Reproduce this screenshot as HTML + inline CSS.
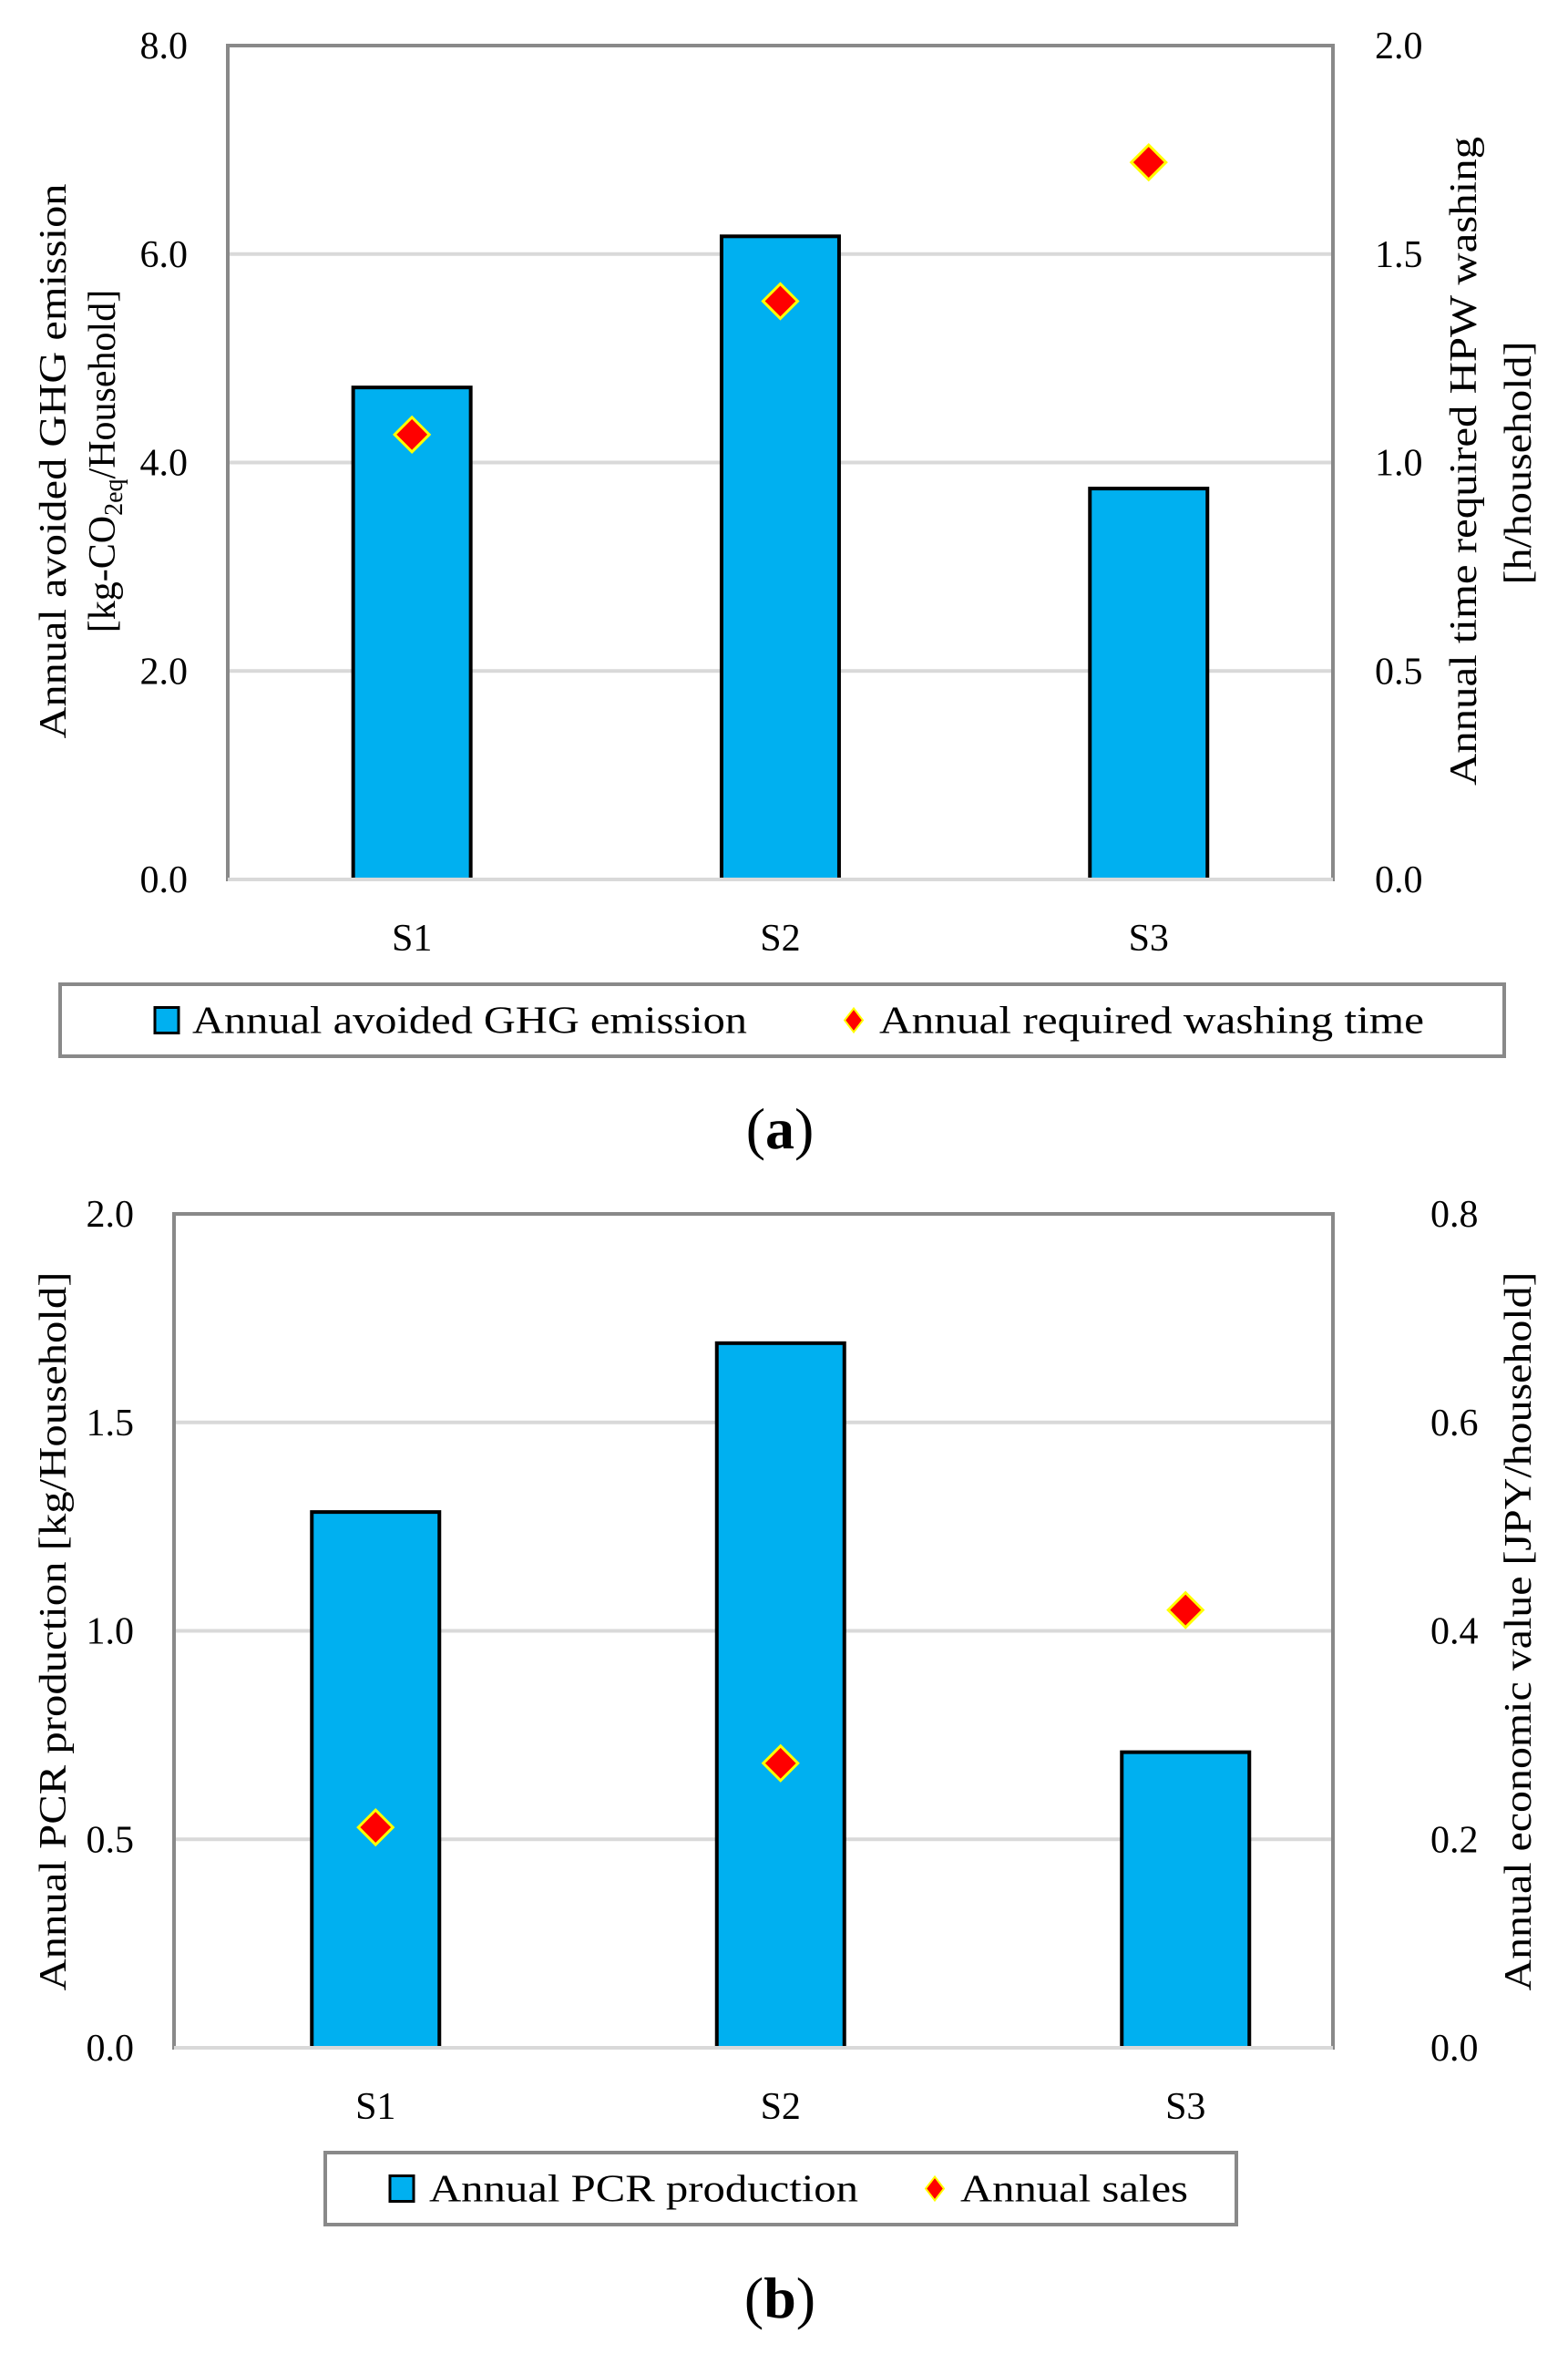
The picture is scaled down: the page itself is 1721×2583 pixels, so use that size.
<!DOCTYPE html>
<html><head><meta charset="utf-8"><style>
html,body{margin:0;padding:0;background:#fff;}
svg{display:block;font-family:"Liberation Serif",serif;}
</style></head><body>
<svg id="fig" width="1721" height="2583" viewBox="0 0 1721 2583" xmlns="http://www.w3.org/2000/svg"></svg>
<script>
const categories = ["S1","S2","S3"];
// chart (a)
const ghgValues = [4.72, 6.17, 3.75];
const washValues = [1.067, 1.387, 1.72];
const aLeftTicks = ["0.0","2.0","4.0","6.0","8.0"];
const aRightTicks = ["0.0","0.5","1.0","1.5","2.0"];
// chart (b)
const pcrValues = [1.285, 1.69, 0.709];
const salesValues = [0.2115, 0.273, 0.42];
const bLeftTicks = ["0.0","0.5","1.0","1.5","2.0"];
const bRightTicks = ["0.0","0.2","0.4","0.6","0.8"];

const NS="http://www.w3.org/2000/svg";
const svg=document.getElementById('fig');
function mk(tag,attrs,parent){const e=document.createElementNS(NS,tag);for(const k in attrs)e.setAttribute(k,attrs[k]);(parent||svg).appendChild(e);return e;}
function txt(s,attrs,parent){const e=mk('text',attrs,parent);e.textContent=s;return e;}

function chart(cfg){
  const g=mk('g',{});
  
  
  const {x0,x1,y0,y1}=cfg;
  const yL=v=>y1-(v/cfg.lMax)*(y1-y0);
  const yR=v=>y1-(v/cfg.rMax)*(y1-y0);
  const cw=cfg.step;
  const xc=i=>cfg.bandStart+cw*(i+0.5);
  cfg.lTicks.forEach((t,i)=>{
    const v=cfg.lMax*i/(cfg.lTicks.length-1);
    const l=mk('line',{x1:x0,x2:x1,y1:yL(v),y2:yL(v),stroke:'#d9d9d9','stroke-width':4},g);
    
    
    const tl=txt(t,{x:cfg.lTickX,y:yL(v)+14,'text-anchor':'end','font-size':42},g);
    
    
  });
  cfg.rTicks.forEach((t,i)=>{
    const v=cfg.rMax*i/(cfg.rTicks.length-1);
    const tl=txt(t,{x:cfg.rTickX,y:yR(v)+14,'text-anchor':'start','font-size':42},g);
    
    
  });
  cfg.bars.forEach((v,i)=>{
    const bw=cfg.bw;
    const r=mk('rect',{x:xc(i)-bw/2,y:yL(v),width:bw,height:y1-yL(v),fill:'#00b0f0',stroke:'#000','stroke-width':4},g);
    
    
  });
  const f=mk('rect',{x:x0,y:y0,width:x1-x0,height:y1-y0,fill:'none',stroke:'#898989','stroke-width':4},g);
  
  
  const bl=mk('line',{x1:x0,x2:x1,y1:y1,y2:y1,stroke:'#d9d9d9','stroke-width':4},g);
  
  
  cfg.pts.forEach((v,i)=>{
    const cx=xc(i),cy=yR(v),h=19;
    const d=mk('polygon',{points:`${cx},${cy-h} ${cx+h},${cy} ${cx},${cy+h} ${cx-h},${cy}`,fill:'#ff0000',stroke:'#ffff00','stroke-width':3},g);
    
    
  });
  categories.forEach((c,i)=>{
    const t=txt(c,{x:xc(i),y:cfg.catY,'text-anchor':'middle','font-size':42},g);
    
    
  });
  return g;
}

chart({name:'chart-a',x0:250,x1:1463,y0:50,y1:965,lMax:8,rMax:2,lTicks:aLeftTicks,rTicks:aRightTicks,lTickX:206,rTickX:1509,bars:ghgValues,pts:washValues,bandStart:250,step:404.3,bw:129,catY:1043});
chart({name:'chart-b',x0:191,x1:1463,y0:1332,y1:2247,lMax:2,rMax:0.8,lTicks:bLeftTicks,rTicks:bRightTicks,lTickX:147,rTickX:1570,bars:pcrValues,pts:salesValues,bandStart:190,step:444.5,bw:140,catY:2325});
</script>
<script>
(function(){
const NS="http://www.w3.org/2000/svg";const svg=document.getElementById('fig');
function mk(tag,attrs){const e=document.createElementNS(NS,tag);for(const k in attrs)e.setAttribute(k,attrs[k]);svg.appendChild(e);return e;}
function rot(s,x,y,len,name){
  const t=mk('text',{x:0,y:0,transform:`translate(${x},${y}) rotate(-90)`,'text-anchor':'middle','font-size':42,textLength:len,lengthAdjust:'spacingAndGlyphs'});
  t.textContent=s;
  
  
  return t;
}
rot('Annual avoided GHG emission',72,506,609,'y-axis-title-left-a');
const t2=mk('text',{x:0,y:0,transform:'translate(126,506) rotate(-90)','text-anchor':'middle','font-size':42});


t2.innerHTML='[kg-CO<tspan font-size="28" dy="8">2eq</tspan><tspan dy="-8">/Household]</tspan>';
rot('Annual time required HPW washing',1620,506,712,'y-axis-title-right-a');
rot('[h/household]',1680,508,267,'y-axis-unit-right-a');
rot('Annual PCR production [kg/Household]',72,1790,789,'y-axis-title-left-b');
rot('Annual economic value [JPY/household]',1680,1790,789,'y-axis-title-right-b');

function legend(name,x,y,w,h,sqX,t1X,t1,t1L,dX,t2X,t2,t2L){
  const r=mk('rect',{x:x,y:y,width:w,height:h,fill:'#fff',stroke:'#898989','stroke-width':4});
  
  
  const cy=y+h/2;
  const s=mk('rect',{x:sqX,y:cy-14,width:26,height:28,fill:'#00b0f0',stroke:'#000','stroke-width':3});
  
  
  const a=mk('text',{x:t1X,y:cy+14,'font-size':42,textLength:t1L,lengthAdjust:'spacingAndGlyphs'});a.textContent=t1;
  
  
  const d=mk('polygon',{points:`${dX},${cy-13} ${dX+10},${cy} ${dX},${cy+13} ${dX-10},${cy}`,fill:'#ff0000',stroke:'#ffff00','stroke-width':2});
  
  
  const b=mk('text',{x:t2X,y:cy+14,'font-size':42,textLength:t2L,lengthAdjust:'spacingAndGlyphs'});b.textContent=t2;
  
  
}
legend('legend-a',66,1080,1585,79,170,211,'Annual avoided GHG emission',609,937,965,'Annual required washing time',598);
legend('legend-b',357,2362,1000,79,428,471,'Annual PCR production',471,1026,1054,'Annual sales',250);

function cap(s,y,name){
  const t=mk('text',{x:856,y:y,'text-anchor':'middle','font-size':64});
  t.innerHTML='(<tspan font-weight="bold">'+s+'</tspan>)';
  
  
}
cap('a',1260,'caption-a');
cap('b',2543,'caption-b');
})();
</script>
</body></html>
